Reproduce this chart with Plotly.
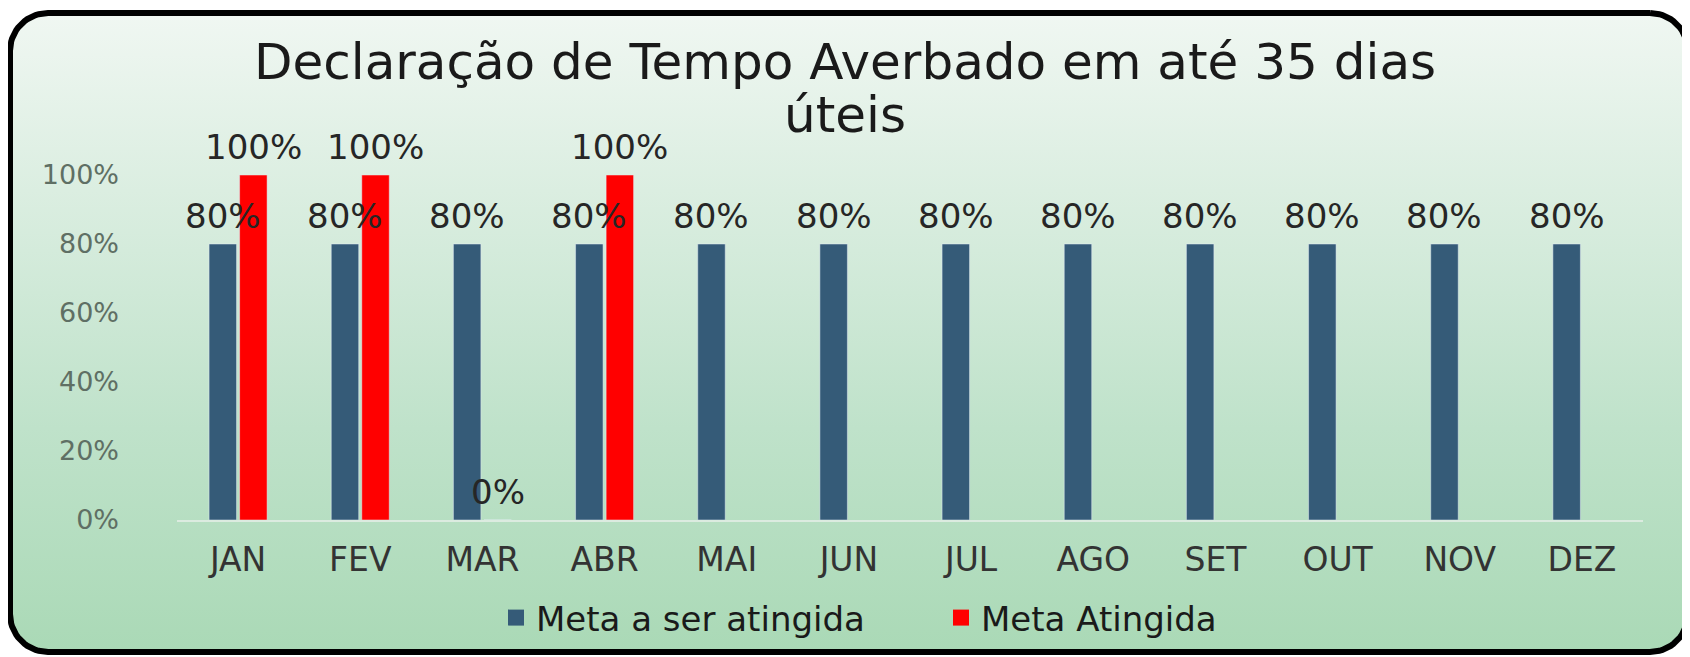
import numpy as np
import plotly.graph_objects as go

# ---------------- data ----------------
months = ["JAN", "FEV", "MAR", "ABR", "MAI", "JUN", "JUL", "AGO", "SET", "OUT", "NOV", "DEZ"]
meta_alvo = [0.8] * 12
meta_atingida = [1.0, 1.0, 0.0, 1.0, None, None, None, None, None, None, None, None]
y_ticks = [0, 0.2, 0.4, 0.6, 0.8, 1.0]
y_tick_labels = ["0%", "20%", "40%", "60%", "80%", "100%"]
title_lines = ["Declaração de Tempo Averbado em até 35 dias", "úteis"]
series_names = ["Meta a ser atingida", "Meta Atingida"]

# ---------------- layout constants ----------------
OFF = 8                              # page body margin
W, H = 1690 - OFF, 657 - OFF         # figure size
PL, PR = 177 - OFF, 1643 - OFF       # plot area x (px, figure coords)
PT, PB = 175 - OFF, 520 - OFF        # plot area y: 100% and 0%
BARGAP, GROUPGAP = 0.5, 0.1
FONT = "DejaVu Sans"
BLUE, RED = "#355B78", "#FF0000"

fig = go.Figure()

# ---- background rounded box with gradient (on full-figure axes x/y) ----
x0, x1, y0, y1, r = 10 - OFF, 1688 - OFF, 13 - OFF, 652 - OFF, 38
def arc(cx, cy, a0, a1):
    t = np.linspace(np.radians(a0), np.radians(a1), 20)
    return cx + r * np.cos(t), cy + r * np.sin(t)
segs = [arc(x1 - r, y0 + r, -90, 0), arc(x1 - r, y1 - r, 0, 90),
        arc(x0 + r, y1 - r, 90, 180), arc(x0 + r, y0 + r, 180, 270)]
bx = np.concatenate([s[0] for s in segs] + [segs[0][0][:1]])
by = np.concatenate([s[1] for s in segs] + [segs[0][1][:1]])
fig.add_trace(go.Scatter(
    x=bx, y=by, mode="lines", fill="toself",
    line=dict(color="#000000", width=6),
    fillgradient=dict(type="vertical",
                      colorscale=[[0, "#AAD9B6"], [0.35, "#BFE2CA"], [1, "#F0F7F2"]]),
    hoverinfo="skip", showlegend=False, xaxis="x", yaxis="y"))

# ---- bars ----
fig.add_trace(go.Bar(x=months, y=meta_alvo, name=series_names[0], marker_color=BLUE,
                     xaxis="x2", yaxis="y2", cliponaxis=False, showlegend=False))
fig.add_trace(go.Bar(x=months, y=meta_atingida, name=series_names[1], marker_color=RED,
                     xaxis="x2", yaxis="y2", cliponaxis=False, showlegend=False))
# legend entries (larger square swatches)
for name, col in zip(series_names, [BLUE, RED]):
    fig.add_trace(go.Scatter(x=[None], y=[None], mode="markers", name=name,
                             marker=dict(symbol="square", size=16, color=col),
                             xaxis="x2", yaxis="y2"))

# ---- data labels as annotations above bars ----
cat_w = (PR - PL) / len(months)
slot = cat_w * (1 - BARGAP) / 2
label_font = dict(family=FONT, size=34, color="#262626")
for m, v in zip(months, meta_alvo):
    fig.add_annotation(x=m, y=v, xref="x2", yref="y2", text=f"{v:.0%}", showarrow=False,
                       xshift=-slot / 2, yshift=28, font=label_font)
for m, v in zip(months, meta_atingida):
    if v is None:
        continue
    fig.add_annotation(x=m, y=v, xref="x2", yref="y2", text=f"{v:.0%}", showarrow=False,
                       xshift=slot / 2, yshift=28, font=label_font)

# ---- title (two lines) ----
for line, yc in zip(title_lines, [62, 115]):
    fig.add_annotation(text=line, xref="paper", yref="paper",
                       x=(845 - OFF) / W, y=1 - (yc - OFF) / H,
                       xanchor="center", yanchor="middle", showarrow=False,
                       font=dict(family=FONT, size=50, color="#1A1A1A"))

fig.update_layout(
    width=W, height=H,
    margin=dict(l=0, r=0, t=0, b=0, autoexpand=False),
    paper_bgcolor="#FFFFFF", plot_bgcolor="rgba(0,0,0,0)",
    barmode="group", bargap=BARGAP, bargroupgap=GROUPGAP,
    xaxis=dict(domain=[0, 1], range=[0, W], visible=False, fixedrange=True),
    yaxis=dict(domain=[0, 1], range=[H, 0], visible=False, fixedrange=True),
    xaxis2=dict(domain=[PL / W, PR / W], anchor="y2", showgrid=False,
                showline=True, linecolor="#DCEBE0", linewidth=2,
                ticks="", ticklabelstandoff=9,
                tickfont=dict(family=FONT, size=33, color="#333333")),
    yaxis2=dict(domain=[1 - PB / H, 1 - PT / H], anchor="x2", range=[0, 1],
                tickvals=y_ticks, ticktext=y_tick_labels, showgrid=False,
                zeroline=False, showline=False, ticks="", ticklabelstandoff=57,
                tickfont=dict(family=FONT, size=27, color="#5F6F64")),
    legend=dict(orientation="h", x=(941 - OFF) / W, xanchor="center",
                y=1 - (618 - OFF) / H, yanchor="middle",
                font=dict(family=FONT, size=34, color="#1A1A1A"),
                bgcolor="rgba(0,0,0,0)", itemwidth=30, entrywidth=400,
                traceorder="normal"),
    showlegend=True,
)

fig.write_html("out.html")
